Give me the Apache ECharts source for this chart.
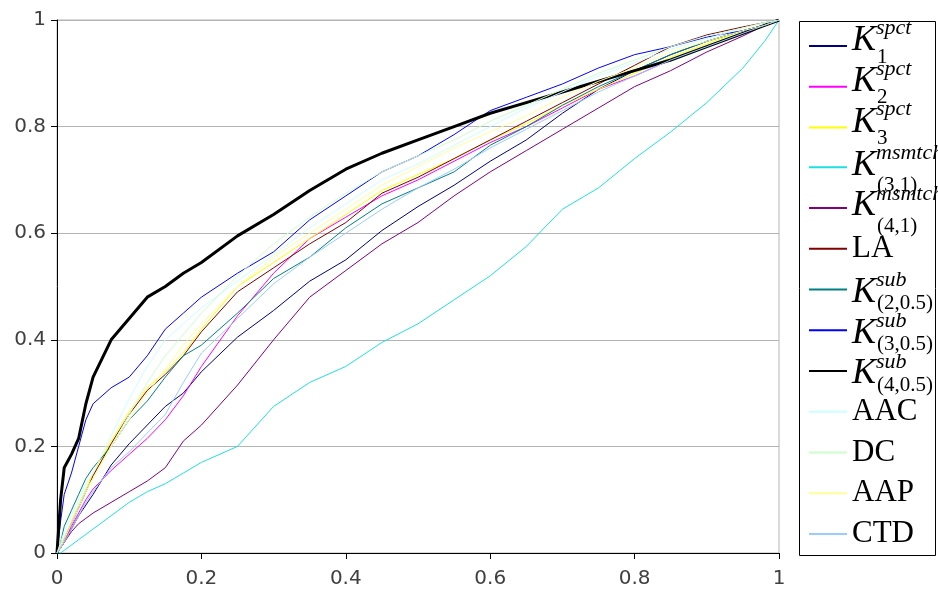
<!DOCTYPE html>
<html>
<head>
<meta charset="utf-8">
<script src="https://cdn.jsdelivr.net/npm/echarts@6/dist/echarts.min.js"></script>
<style>
html, body { margin: 0; background: #fff; }
#chart { width: 938px; height: 594px; }
</style>
</head>
<body>
<div id="chart"></div>
<script>
// false positive rate (x) shared by every curve
const fpr = [0, 0.005, 0.01, 0.02, 0.03, 0.04, 0.05, 0.075, 0.1, 0.125, 0.15, 0.175, 0.2, 0.25, 0.3,
	0.35, 0.4, 0.45, 0.5, 0.55, 0.6, 0.65, 0.7, 0.75, 0.8, 0.85, 0.9, 0.95, 0.98, 1];

// true positive rate (y) for each kernel / method
const k1Spct = [0, 0.01, 0.02, 0.045, 0.07, 0.09, 0.11, 0.165, 0.205, 0.24, 0.275, 0.3, 0.34, 0.405, 0.455,
	0.51, 0.55, 0.605, 0.65, 0.69, 0.735, 0.775, 0.825, 0.87, 0.905, 0.935, 0.96, 0.98, 0.99, 1];
const k2Spct = [0, 0.01, 0.02, 0.05, 0.075, 0.1, 0.12, 0.155, 0.185, 0.215, 0.25, 0.295, 0.35, 0.445, 0.525,
	0.59, 0.63, 0.67, 0.7, 0.735, 0.77, 0.8, 0.835, 0.87, 0.895, 0.925, 0.95, 0.975, 0.99, 1];
const k3Spct = [0, 0.01, 0.025, 0.06, 0.09, 0.12, 0.15, 0.21, 0.265, 0.31, 0.34, 0.375, 0.42, 0.5, 0.545,
	0.59, 0.635, 0.68, 0.71, 0.74, 0.775, 0.805, 0.84, 0.87, 0.9, 0.93, 0.955, 0.98, 0.99, 1];
const msmtch31 = [0, 0, 0.005, 0.015, 0.025, 0.035, 0.045, 0.07, 0.095, 0.115, 0.13, 0.15, 0.17, 0.2, 0.275,
	0.32, 0.35, 0.395, 0.43, 0.475, 0.52, 0.575, 0.645, 0.685, 0.74, 0.79, 0.845, 0.91, 0.96, 1];
const msmtch41 = [0, 0.01, 0.02, 0.04, 0.055, 0.065, 0.075, 0.095, 0.115, 0.135, 0.16, 0.21, 0.24, 0.315, 0.4,
	0.48, 0.53, 0.58, 0.62, 0.67, 0.715, 0.755, 0.795, 0.835, 0.875, 0.905, 0.94, 0.97, 0.99, 1];
const la = [0, 0.01, 0.025, 0.055, 0.085, 0.115, 0.145, 0.205, 0.26, 0.305, 0.335, 0.37, 0.415, 0.49, 0.535,
	0.58, 0.62, 0.675, 0.705, 0.74, 0.775, 0.81, 0.845, 0.88, 0.915, 0.95, 0.972, 0.987, 0.995, 1];
const sub205 = [0, 0.02, 0.05, 0.08, 0.11, 0.14, 0.16, 0.2, 0.25, 0.285, 0.33, 0.37, 0.39, 0.45, 0.515,
	0.555, 0.61, 0.655, 0.685, 0.715, 0.765, 0.8, 0.84, 0.875, 0.905, 0.935, 0.96, 0.98, 0.99, 1];
const sub305 = [0, 0.06, 0.11, 0.15, 0.2, 0.25, 0.28, 0.31, 0.33, 0.37, 0.42, 0.45, 0.48, 0.525, 0.565,
	0.625, 0.67, 0.715, 0.745, 0.785, 0.83, 0.855, 0.88, 0.91, 0.935, 0.95, 0.968, 0.98, 0.99, 1];
const sub405 = [0, 0.1, 0.16, 0.185, 0.215, 0.28, 0.33, 0.4, 0.44, 0.48, 0.5, 0.525, 0.545, 0.595, 0.635,
	0.68, 0.72, 0.75, 0.775, 0.8, 0.825, 0.845, 0.865, 0.885, 0.905, 0.925, 0.95, 0.975, 0.99, 1];
const aac = [0, 0.02, 0.04, 0.07, 0.1, 0.13, 0.15, 0.22, 0.29, 0.35, 0.4, 0.43, 0.46, 0.51, 0.56,
	0.61, 0.655, 0.7, 0.73, 0.765, 0.8, 0.835, 0.865, 0.895, 0.92, 0.945, 0.965, 0.985, 0.995, 1];
const dc = [0, 0.015, 0.03, 0.06, 0.09, 0.12, 0.14, 0.2, 0.26, 0.32, 0.37, 0.41, 0.45, 0.52, 0.58,
	0.63, 0.675, 0.715, 0.745, 0.775, 0.81, 0.84, 0.87, 0.9, 0.925, 0.95, 0.97, 0.985, 0.995, 1];
const aap = [0, 0.01, 0.025, 0.055, 0.085, 0.115, 0.14, 0.2, 0.25, 0.3, 0.345, 0.39, 0.43, 0.5, 0.555,
	0.6, 0.645, 0.69, 0.725, 0.76, 0.79, 0.82, 0.855, 0.885, 0.91, 0.94, 0.96, 0.98, 0.99, 1];
const ctd = [0, 0.01, 0.02, 0.045, 0.07, 0.095, 0.115, 0.16, 0.19, 0.225, 0.26, 0.32, 0.375, 0.44, 0.505,
	0.555, 0.6, 0.645, 0.685, 0.72, 0.76, 0.795, 0.83, 0.865, 0.895, 0.925, 0.95, 0.975, 0.99, 1];

const tickLabels = ["0", "0.2", "0.4", "0.6", "0.8", "1"];

// legend entries: [series name, label markup, data, colour]
const curves = [
	["K1spct", "{kA|K}{supA|spct}{subA|1}", k1Spct, "#000080"],
	["K2spct", "{kA|K}{supA|spct}{subA|2}", k2Spct, "#FF00FF"],
	["K3spct", "{kA|K}{supA|spct}{subA|3}", k3Spct, "#FFFF00"],
	["K31msmtch", "{kB|K}{supB|msmtch}{subB|(3,1)}", msmtch31, "#1EE0E0"],
	["K41msmtch", "{kB|K}{supB|msmtch}{subB|(4,1)}", msmtch41, "#800080"],
	["LA", "{t|LA}", la, "#800000"],
	["K205sub", "{kC|K}{supC|sub}{subC|(2,0.5)}", sub205, "#008080"],
	["K305sub", "{kC|K}{supC|sub}{subC|(3,0.5)}", sub305, "#0000FF"],
	["K405sub", "{kC|K}{supC|sub}{subC|(4,0.5)}", sub405, "#000000"],
	["AAC", "{t|AAC}", aac, "#CCFFFF"],
	["DC", "{t|DC}", dc, "#CCFFCC"],
	["AAP", "{t|AAP}", aap, "#FFFF99"],
	["CTD", "{t|CTD}", ctd, "#99CCFF"],
];

const SERIF = "'Liberation Serif', 'Times New Roman', serif";
const SANS = "'DejaVu Sans', Arial, sans-serif";
const ROW = 60;        // every legend text block is this tall
const STEP = 40.75;    // distance between legend rows
const FIRST = 45;      // centre of the first legend row

// token of font size fs, moved dy px from the row centre, always ROW tall
function tok(fs, dy, extra) {
	const room = (ROW - fs) / 2;
	return {
		fontFamily: SERIF, color: "#000", fontSize: fs, verticalAlign: "middle",
		padding: [room + dy, 0, room - dy, 0], ...extra,
	};
}
function scriptStyles(tag, supY, kY, subY) {
	const out = {};
	out["k" + tag] = tok(36, kY, { fontStyle: "italic" });
	out["sup" + tag] = tok(22, supY, { fontStyle: "italic", width: 1 });
	out["sub" + tag] = tok(21, subY);
	return out;
}

const rich = {
	t: tok(31, 0),
	// invisible tall glyph so every row has the same bounding box
	pad: { fontFamily: SERIF, fontSize: 56, color: "rgba(0,0,0,0)", verticalAlign: "middle", width: 1 },
	...scriptStyles("A", -18, -5, 11),
	...scriptStyles("B", -14, -2, 18),
	...scriptStyles("C", -9, 3, 14),
};

const tickLabel = (margin) => ({
	color: "#404040", fontSize: 20, fontFamily: SANS, margin,
	formatter: (v) => tickLabels[Math.round(v * 5)],
});

const chart = echarts.init(document.getElementById("chart"));
chart.setOption({
	animation: false,
	backgroundColor: "#fff",
	grid: {
		left: 57, right: 159, top: 20, bottom: 41,
		show: true, borderColor: "#b4b4b4", borderWidth: 1, backgroundColor: "#fff",
	},
	xAxis: {
		type: "value", min: 0, max: 1, interval: 0.2,
		axisLine: { lineStyle: { color: "#000", width: 1 } },
		axisTick: { show: true, length: 6, lineStyle: { color: "#000" } },
		axisLabel: tickLabel(16),
		splitLine: { show: false },
	},
	yAxis: {
		type: "value", min: 0, max: 1, interval: 0.2,
		axisLine: { show: true, lineStyle: { color: "#000", width: 1 } },
		axisTick: { show: true, length: 6, lineStyle: { color: "#000" } },
		axisLabel: tickLabel(11),
		splitLine: { lineStyle: { color: "#b4b4b4", width: 1 } },
	},
	// one single-entry legend per row so the rows sit at a fixed pitch
	legend: curves.map(([name, markup], i) => ({
		data: [name],
		orient: "vertical", left: 808, top: FIRST + i * STEP - 28, padding: 0,
		itemWidth: 38, itemHeight: 2,
		selectedMode: false,
		itemStyle: { opacity: 0 },
		formatter: () => markup + "{pad| }",
		textStyle: { rich },
	})),
	graphic: [{
		type: "rect", z: -1, silent: true,
		shape: { x: 799.5, y: 21.5, width: 136, height: 534 },
		style: { fill: "#fff", stroke: "#000", lineWidth: 1 },
	}],
	series: curves.map(([name, , ys, color]) => ({
		name, type: "line", symbol: "none",
		data: fpr.map((x, i) => [x, ys[i]]),
		lineStyle: { color, width: name === "K405sub" ? 3 : 1 },
		itemStyle: { color },
	})),
});
</script>
</body>
</html>
